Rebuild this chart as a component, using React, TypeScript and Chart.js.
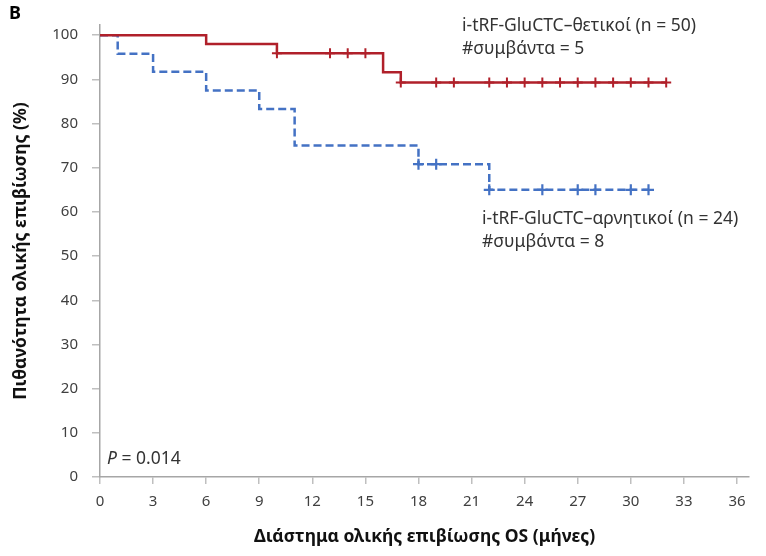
import React, { useEffect, useRef } from "react";
import { Chart, registerables } from "chart.js";

Chart.register(...registerables);

// ---- data ----
const xTickValues = [0, 3, 6, 9, 12, 15, 18, 21, 24, 27, 30, 33, 36];
const yTickValues = [0, 10, 20, 30, 40, 50, 60, 70, 80, 90, 100];

// i-tRF-GluCTC positive (n = 50)
const posTimes = [0, 6, 10, 16, 17, 32];
const posSurvival = [100, 98, 95.9, 91.6, 89.3, 89.3];
const posCensored = [10, 13, 14, 15, 17, 19, 20, 22, 23, 24, 25, 26, 27, 28, 29, 30, 31, 32];

// i-tRF-GluCTC negative (n = 24)
const negTimes = [0, 1, 3, 6, 9, 11, 18, 22, 31];
const negSurvival = [100, 95.8, 91.7, 87.5, 83.3, 75, 70.8, 65, 65];
const negCensored = [18, 19, 22, 25, 27, 28, 30, 31];

const posLabel = ["i-tRF-GluCTC\u2013θετικοί (n = 50)", "#συμβάντα = 5"];
const negLabel = ["i-tRF-GluCTC\u2013αρνητικοί (n = 24)", "#συμβάντα = 8"];
const pValue = "0.014";
const xTitle = "Διάστημα ολικής επιβίωσης OS (μήνες)";
const yTitle = "Πιθανότητα ολικής επιβίωσης (%)";
const panelLetter = "B";

const RED = "#B0202A";
const BLUE = "#4472C4";
const FONT = "'Noto Sans', 'DejaVu Sans', sans-serif";

function stepValue(times: number[], surv: number[], t: number): number {
  let v = surv[0];
  for (let i = 0; i < times.length; i++) {
    if (times[i] <= t) v = surv[i];
  }
  return v;
}

const textPlugin = {
  id: "kmText",
  afterDraw(chart: any) {
    const ctx = chart.ctx as CanvasRenderingContext2D;
    ctx.save();
    ctx.textBaseline = "middle";
    ctx.textAlign = "left";
    ctx.fillStyle = "#333333";
    ctx.font = `17.5px ${FONT}`;
    ctx.fillText(posLabel[0], 462, 26);
    ctx.fillText(posLabel[1], 462, 49);
    ctx.fillText(negLabel[0], 482, 219);
    ctx.fillText(negLabel[1], 482, 242);
    // P value
    ctx.font = `italic 17.5px ${FONT}`;
    ctx.fillText("P", 107, 459);
    const pw = ctx.measureText("P").width;
    ctx.font = `17.5px ${FONT}`;
    ctx.fillText(" = " + pValue, 107 + pw, 459);
    // panel letter
    ctx.fillStyle = "#000000";
    ctx.font = `bold 18px ${FONT}`;
    ctx.fillText(panelLetter, 9, 14);
    ctx.restore();
  },
};

export default function App() {
  const ref = useRef<HTMLCanvasElement | null>(null);

  useEffect(() => {
    if (!ref.current) return;
    const chart = new Chart(ref.current, {
      type: "line",
      data: {
        datasets: [
          {
            label: "pos",
            data: posTimes.map((t, i) => ({ x: t, y: posSurvival[i] })),
            borderColor: RED,
            borderWidth: 2.5,
            stepped: "before",
            pointRadius: 0,
            fill: false,
          },
          {
            label: "posCens",
            data: posCensored.map((t) => ({ x: t, y: stepValue(posTimes, posSurvival, t) })),
            showLine: false,
            pointStyle: "cross",
            pointRadius: 5,
            pointBorderWidth: 2,
            pointBorderColor: RED,
            borderColor: RED,
          },
          {
            label: "neg",
            data: negTimes.map((t, i) => ({ x: t, y: negSurvival[i] })),
            borderColor: BLUE,
            borderWidth: 2.5,
            borderDash: [8, 4],
            stepped: "before",
            pointRadius: 0,
            fill: false,
          },
          {
            label: "negCens",
            data: negCensored.map((t) => ({ x: t, y: stepValue(negTimes, negSurvival, t) })),
            showLine: false,
            pointStyle: "cross",
            pointRadius: 5.5,
            pointBorderWidth: 2.2,
            pointBorderColor: BLUE,
            borderColor: BLUE,
          },
        ],
      },
      options: {
        responsive: false,
        animation: false,
        layout: { padding: { top: 25, right: 17, left: 0, bottom: 0 } },
        plugins: {
          legend: { display: false },
          tooltip: { enabled: false },
        },
        scales: {
          x: {
            type: "linear",
            min: 0,
            max: 36.68,
            afterBuildTicks: (scale: any) => {
              scale.ticks = xTickValues.map((v) => ({ value: v }));
            },
            afterFit: (scale: any) => {
              scale.height = 79;
            },
            ticks: {
              color: "#404040",
              font: { family: FONT, size: 15 },
              padding: 9,
              maxRotation: 0,
              autoSkip: false,
            },
            grid: {
              drawOnChartArea: false,
              drawTicks: true,
              tickLength: 7,
              color: "#bfbfbf",
              lineWidth: 1.5,
            },
            border: { color: "#a6a6a6", width: 1.5 },
            title: {
              display: true,
              text: xTitle,
              color: "#111111",
              font: { family: FONT, size: 17.5, weight: "bold" },
              padding: { top: 0, bottom: 8 },
            },
          },
          y: {
            type: "linear",
            min: 0,
            max: 102.3,
            afterBuildTicks: (scale: any) => {
              scale.ticks = yTickValues.map((v) => ({ value: v }));
            },
            afterFit: (scale: any) => {
              scale.width = 100;
            },
            ticks: {
              color: "#404040",
              font: { family: FONT, size: 15 },
              padding: 14,
              autoSkip: false,
            },
            grid: {
              drawOnChartArea: false,
              drawTicks: true,
              tickLength: 8,
              color: "#bfbfbf",
              lineWidth: 1.5,
            },
            border: { color: "#a6a6a6", width: 1.5 },
            title: {
              display: true,
              text: yTitle,
              color: "#111111",
              font: { family: FONT, size: 17.5, weight: "bold" },
              padding: { top: 11, bottom: 0 },
            },
          },
        },
      },
      plugins: [textPlugin],
    });
    return () => chart.destroy();
  }, []);

  return (
    <div style={{ position: "absolute", left: 0, top: 0, width: 766, height: 556, background: "#ffffff" }}>
      <canvas ref={ref} width={766} height={556} style={{ display: "block" }} />
    </div>
  );
}
